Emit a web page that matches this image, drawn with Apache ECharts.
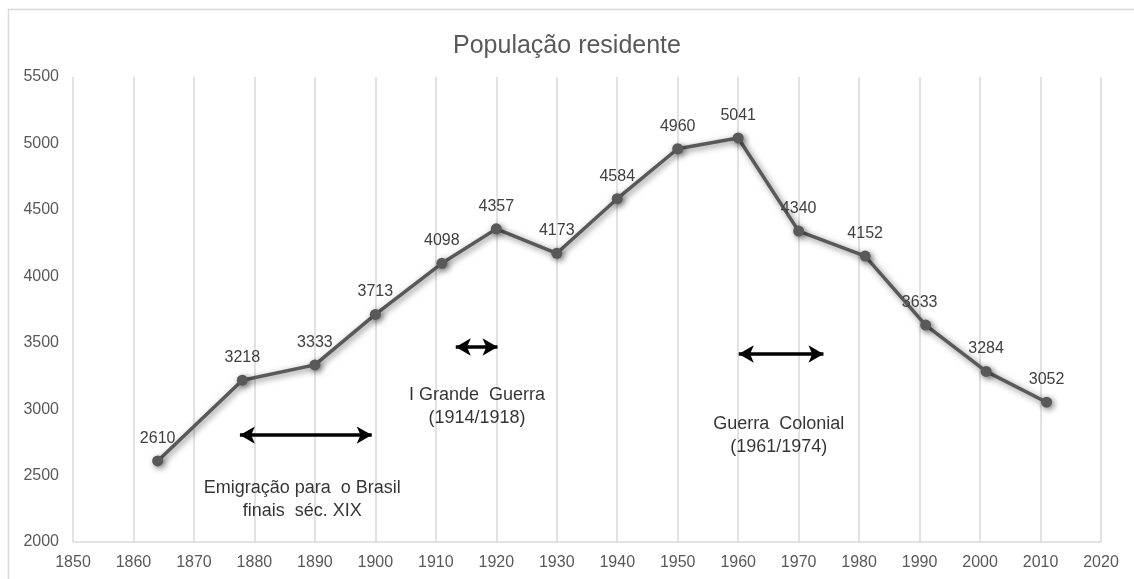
<!DOCTYPE html>
<html>
<head>
<meta charset="utf-8">
<script src="https://cdn.jsdelivr.net/npm/echarts@6/dist/echarts.min.js"></script>
<style>
  html, body { margin: 0; padding: 0; background: #fff; }
  #chart { width: 1134px; height: 579px; }
</style>
</head>
<body>
<div id="chart"></div>
<script>
// census years and resident population
const anos = [1864, 1878, 1890, 1900, 1911, 1920, 1930, 1940, 1950, 1960, 1970, 1981, 1991, 2001, 2011];
const populacao = [2610, 3218, 3333, 3713, 4098, 4357, 4173, 4584, 4960, 5041, 4340, 4152, 3633, 3284, 3052];

// double arrows marking historical periods: [startYear, endYear, level]
const periodos = [
  [1877.6, 1899.4, 2805],
  [1913.3, 1920.2, 3468],
  [1960.1, 1974.1, 3415]
];

// notes under the arrows: [year, level, text]
const notas = [
  [1887.9, 2316, 'Emigração para  o Brasil\nfinais  séc. XIX'],
  [1916.8, 3016, 'I Grande  Guerra\n(1914/1918)'],
  [1966.7, 2805, 'Guerra  Colonial\n(1961/1974)']
];

const cinza = '#595959';
const fonte = '"Liberation Sans", Arial, sans-serif';

const chart = echarts.init(document.getElementById('chart'), null, { renderer: 'canvas' });

chart.setOption({
  backgroundColor: '#fff',
  animation: false,
  textStyle: { fontFamily: fonte },
  title: {
    text: 'População residente',
    left: 'center',
    top: 29,
    textStyle: { color: cinza, fontSize: 25, fontWeight: 'normal', fontFamily: fonte }
  },
  graphic: [{
    type: 'rect',
    shape: { x: 8.5, y: 9.5, width: 1140, height: 600 },
    style: { fill: 'none', stroke: '#d9d9d9', lineWidth: 1.5 },
    silent: true
  }],
  grid: { left: 73, right: 33, top: 77, bottom: 37 },
  xAxis: {
    type: 'value',
    min: 1850,
    max: 2020,
    interval: 10,
    axisLine: { show: true, lineStyle: { color: '#d9d9d9', width: 1.5 } },
    axisTick: { show: false },
    axisLabel: { color: cinza, fontSize: 16, margin: 13, fontFamily: fonte, formatter: v => String(v) },
    splitLine: { show: true, lineStyle: { color: '#d9d9d9', width: 1.5 } }
  },
  yAxis: {
    type: 'value',
    min: 2000,
    max: 5500,
    interval: 500,
    axisLine: { show: false },
    axisTick: { show: false },
    axisLabel: { color: cinza, fontSize: 16, margin: 14, fontFamily: fonte, formatter: v => String(v) },
    splitLine: { show: false }
  },
  series: [
    {
      name: 'População residente',
      type: 'line',
      data: anos.map((a, i) => [a, populacao[i]]),
      symbol: 'circle',
      symbolSize: 11,
      itemStyle: {
        color: cinza,
        shadowColor: 'rgba(0,0,0,0.5)', shadowBlur: 6, shadowOffsetX: 2, shadowOffsetY: 2
      },
      lineStyle: {
        color: cinza, width: 3.5,
        shadowColor: 'rgba(0,0,0,0.5)', shadowBlur: 6, shadowOffsetX: 2, shadowOffsetY: 2
      },
      label: {
        show: true,
        position: 'top',
        distance: 9,
        color: '#404040',
        fontSize: 16,
        fontFamily: fonte,
        formatter: p => p.value[1]
      },
      labelLayout: p => (p.dataIndex === 12 ? { dx: -6 } : {}),
      z: 3
    },
    {
      name: 'periodos',
      type: 'line',
      data: [],
      silent: true,
      markLine: {
        silent: true,
        symbol: ['arrow', 'arrow'],
        symbolSize: [13, 15],
        label: { show: false },
        lineStyle: { color: '#000', width: 3.5, type: 'solid' },
        data: periodos.map(p => [{ coord: [p[0], p[2]] }, { coord: [p[1], p[2]] }])
      }
    },
    {
      name: 'notas',
      type: 'scatter',
      symbolSize: 0,
      silent: true,
      data: notas.map(n => ({ value: [n[0], n[1]], name: n[2] })),
      label: {
        show: true,
        position: 'inside',
        color: '#000',
        fontSize: 18,
        lineHeight: 23,
        align: 'center',
        fontFamily: fonte,
        formatter: p => p.name
      }
    }
  ]
});
</script>
</body>
</html>
